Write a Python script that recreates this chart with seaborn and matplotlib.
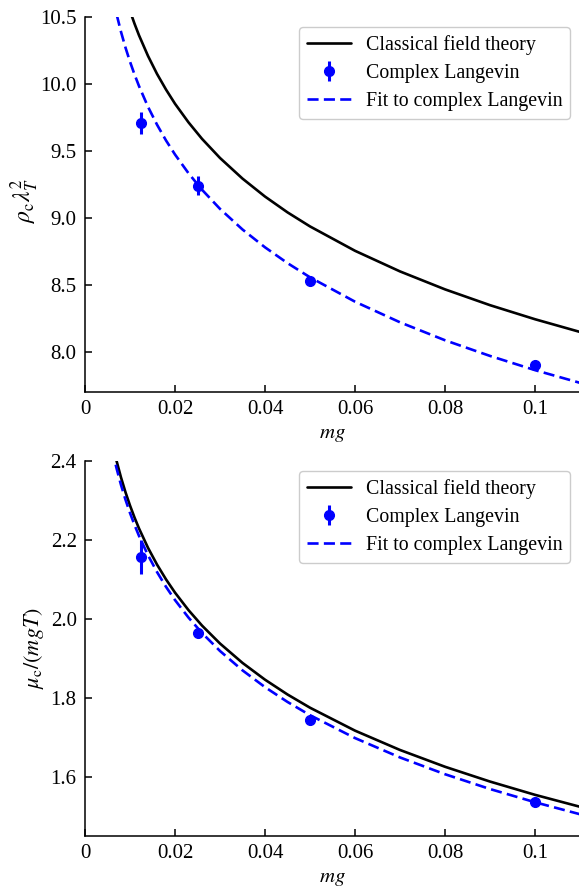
import matplotlib
matplotlib.use("Agg")
import matplotlib.pyplot as plt
import seaborn as sns
import pandas as pd

# ---------------- data ----------------
mg_curve = [0.006, 0.007, 0.008, 0.009, 0.010, 0.011, 0.012, 0.014, 0.016, 0.018,
            0.020, 0.023, 0.026, 0.030, 0.035, 0.040, 0.045, 0.050, 0.060, 0.070,
            0.080, 0.090, 0.100, 0.110]

rho_classical = [11.056, 10.902, 10.769, 10.651, 10.545, 10.450, 10.363, 10.209, 10.075, 9.958,
                 9.852, 9.713, 9.590, 9.447, 9.293, 9.159, 9.041, 8.936, 8.754, 8.600,
                 8.466, 8.348, 8.243, 8.148]
rho_fit = [10.677, 10.523, 10.389, 10.271, 10.166, 10.071, 9.984, 9.829, 9.696, 9.578,
           9.473, 9.333, 9.210, 9.067, 8.913, 8.780, 8.662, 8.556, 8.374, 8.220,
           8.086, 7.969, 7.863, 7.768]

mu_classical = [2.4498, 2.4007, 2.3582, 2.3207, 2.2872, 2.2568, 2.2291, 2.1800, 2.1376, 2.1001,
                2.0665, 2.0221, 1.9830, 1.9375, 1.8884, 1.8459, 1.8084, 1.7749, 1.7168, 1.6678,
                1.6253, 1.5878, 1.5542, 1.5239]
mu_fit = [2.4309, 2.3819, 2.3393, 2.3018, 2.2683, 2.2380, 2.2102, 2.1612, 2.1187, 2.0812,
          2.0476, 2.0032, 1.9642, 1.9186, 1.8695, 1.8270, 1.7895, 1.7560, 1.6980, 1.6489,
          1.6064, 1.5689, 1.5354, 1.5050]

mg_data = [0.0125, 0.025, 0.05, 0.1]
rho_data = [9.707, 9.240, 8.525, 7.905]
rho_err = [0.08, 0.07, 0.03, 0.02]
mu_data = [2.157, 1.965, 1.745, 1.535]
mu_err = [0.043, 0.012, 0.008, 0.006]

xticks = [0, 0.02, 0.04, 0.06, 0.08, 0.1]
xticklabels = ["0", "0.02", "0.04", "0.06", "0.08", "0.1"]
rho_yticks = [8.0, 8.5, 9.0, 9.5, 10.0, 10.5]
mu_yticks = [1.6, 1.8, 2.0, 2.2, 2.4]

# ---------------- style ----------------
sns.set_theme(style="ticks")
plt.rcParams["font.family"] = ["Liberation Serif", "DejaVu Serif"]
plt.rcParams["mathtext.fontset"] = "stix"
plt.rcParams["xtick.direction"] = "in"
plt.rcParams["ytick.direction"] = "in"
plt.rcParams["text.color"] = "black"
plt.rcParams["axes.labelcolor"] = "black"
plt.rcParams["xtick.color"] = "black"
plt.rcParams["ytick.color"] = "black"

fig = plt.figure(figsize=(5.79, 8.88), dpi=100)
ax1 = fig.add_axes([0.1468, 0.5586, 0.855, 0.4223])
ax2 = fig.add_axes([0.1468, 0.0586, 0.855, 0.4223])

FS = 15

def panel(ax, yc, yf, yd, ye, ylim, yticks, ylabel, ylabel_fs, ylabel_x, ylabel_y):
    df = pd.DataFrame({"mg": mg_curve, "cl": yc, "fit": yf})
    sns.lineplot(data=df, x="mg", y="cl", ax=ax, color="black", lw=1.9,
                 sort=False, label="Classical field theory")
    ax.errorbar(mg_data, yd, yerr=ye, fmt="o", color="#0000ff", ms=7,
                elinewidth=2.2, capsize=0, label="Complex Langevin", zorder=5)
    sns.lineplot(data=df, x="mg", y="fit", ax=ax, color="#0000ff", lw=1.9,
                 sort=False, label="Fit to complex Langevin")
    ax.lines[-1].set_dashes([4.2, 2.0])
    ax.set_xlim(0, 0.11)
    ax.set_ylim(*ylim)
    ax.set_xticks(xticks)
    ax.set_xticklabels(xticklabels)
    ax.set_yticks(yticks)
    ax.set_yticklabels([f"{v:.1f}" for v in yticks])
    ax.tick_params(labelsize=FS, length=5, width=1.1, colors="black", pad=6)
    for s in ["top", "right"]:
        ax.spines[s].set_visible(False)
    for s in ["left", "bottom"]:
        ax.spines[s].set_linewidth(1.1)
        ax.spines[s].set_color("black")
    ax.set_xlabel(r"$mg$", fontsize=FS, labelpad=4)
    ax.set_ylabel(ylabel, fontsize=ylabel_fs)
    ax.yaxis.set_label_coords(ylabel_x, ylabel_y)
    h, l = ax.get_legend_handles_labels()
    order = [l.index("Classical field theory"), l.index("Complex Langevin"),
             l.index("Fit to complex Langevin")]
    leg = ax.legend([h[i] for i in order], [l[i] for i in order], loc="upper right",
                    fontsize=14.3, handlelength=2.2, handletextpad=0.75,
                    frameon=True, fancybox=True, labelspacing=0.45,
                    edgecolor="#cccccc", framealpha=1.0, borderaxespad=0.5)
    leg.get_frame().set_linewidth(1.0)

panel(ax1, rho_classical, rho_fit, rho_data, rho_err, (7.7, 10.5), rho_yticks,
      r"$\rho_\mathrm{c}\lambda_T^2$", 17, -0.088, 0.51)
panel(ax2, mu_classical, mu_fit, mu_data, mu_err, (1.45, 2.4), mu_yticks,
      r"$\mu_\mathrm{c}/(mgT)$", 16, -0.078, 0.50)

fig.savefig("out.png", dpi=100)
